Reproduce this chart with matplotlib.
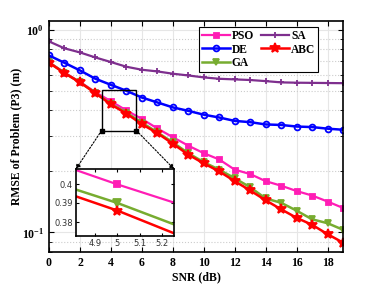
import matplotlib
matplotlib.use("Agg")
import matplotlib.pyplot as plt
from matplotlib.patches import Rectangle, ConnectionPatch
import numpy as np

snr = list(range(20))
pso = [0.692, 0.615, 0.553, 0.492, 0.444, 0.400, 0.363, 0.326, 0.295, 0.268, 0.246, 0.229, 0.204, 0.194, 0.179, 0.170, 0.160, 0.152, 0.142, 0.132]
de = [0.747, 0.687, 0.630, 0.573, 0.535, 0.500, 0.463, 0.438, 0.414, 0.398, 0.381, 0.369, 0.355, 0.350, 0.341, 0.339, 0.333, 0.331, 0.325, 0.321]
ga = [0.690, 0.612, 0.550, 0.488, 0.430, 0.390, 0.348, 0.312, 0.278, 0.246, 0.222, 0.204, 0.185, 0.167, 0.147, 0.140, 0.128, 0.116, 0.111, 0.103]
sa = [0.876, 0.810, 0.773, 0.730, 0.693, 0.657, 0.635, 0.623, 0.607, 0.595, 0.582, 0.573, 0.569, 0.565, 0.558, 0.550, 0.548, 0.547, 0.546, 0.545]
abc = [0.688, 0.611, 0.550, 0.487, 0.428, 0.386, 0.342, 0.309, 0.274, 0.242, 0.219, 0.200, 0.179, 0.161, 0.144, 0.130, 0.118, 0.109, 0.098, 0.089]

xticks = [0, 2, 4, 6, 8, 10, 12, 14, 16, 18]
inset_xticks = [4.9, 5.0, 5.1, 5.2]
inset_xticklabels = ["4.9", "5", "5.1", "5.2"]
inset_yticks = [0.38, 0.39, 0.40]
inset_yticklabels = ["0.38", "0.39", "0.4"]

c_pso = "#FF1DB5"
c_de = "#0000FF"
c_ga = "#77AC30"
c_sa = "#7E2F8E"
c_abc = "#FF0000"

serif = "Liberation Serif"
plt.rcParams["font.family"] = serif
plt.rcParams["mathtext.fontset"] = "custom"
plt.rcParams["mathtext.rm"] = "Liberation Serif:bold"
plt.rcParams["mathtext.bf"] = "Liberation Serif:bold"
plt.rcParams["mathtext.default"] = "bf"

fig = plt.figure(figsize=(3.78, 2.84), dpi=100)
ax = fig.add_axes([49/378, 1-252/284, (343-49)/378, (252-21)/284])

series = [
    ("PSO", pso, c_pso, "s", 3.6, 1.6),
    ("DE", de, c_de, "o", 4.2, 1.8),
    ("GA", ga, c_ga, "v", 4.6, 1.8),
    ("SA", sa, c_sa, "+", 4.6, 1.6),
    ("ABC", abc, c_abc, "*", 7, 1.8),
]
for name, vals, col, mk, ms, lw in series:
    kw = dict(markerfacecolor=col) if mk in ("s", "v", "*") else dict(markerfacecolor="none")
    ax.plot(snr, vals, color=col, marker=mk, markersize=ms, linewidth=lw,
            markeredgewidth=1.3, label=name, **kw)

ax.set_yscale("log")
ax.set_xlim(0, 19)
ax.set_ylim(0.08, 1.105)
ax.set_xticks(xticks)
ax.set_xticklabels([str(t) for t in xticks], fontsize=8.5, fontweight="bold")
ax.tick_params(axis="both", which="both", direction="in", top=True, right=True)
ax.tick_params(axis="both", which="major", length=3.5, labelsize=8.5)
ax.tick_params(axis="y", which="minor", length=2)
for lab in ax.get_yticklabels():
    lab.set_fontweight("bold")
ax.grid(True, which="major", axis="x", color="#e6e6e6", linewidth=0.8)
ax.grid(True, which="major", axis="y", color="#e6e6e6", linewidth=0.8)
ax.grid(True, which="minor", axis="y", color="#cccccc", linestyle=":", linewidth=0.8)
ax.set_axisbelow(True)
for s in ax.spines.values():
    s.set_linewidth(1.2)

ax.set_xlabel("SNR (dB)", fontsize=8.5, fontweight="bold", labelpad=2)
ax.set_ylabel("RMSE of Problem (P3) (m)", fontsize=8.5, fontweight="bold")
ax.yaxis.set_label_coords(-0.092, 0.5)

leg = ax.legend(ncol=2, loc="upper right", bbox_to_anchor=(0.916, 0.973),
                prop={"family": serif, "weight": "bold", "size": 8.3},
                fancybox=False, edgecolor="black", framealpha=1,
                handlelength=2.4, handletextpad=0.2, columnspacing=0.6,
                labelspacing=0.12, borderpad=0.25, borderaxespad=0.0)
leg.get_frame().set_linewidth(0.8)

# zoom box in main axes
bx0, bx1, by0, by1 = 3.4, 5.65, 0.318, 0.502
ax.add_patch(Rectangle((bx0, by0), bx1 - bx0, by1 - by0, fill=False,
                       edgecolor="black", linewidth=1.0, zorder=5))

# inset axes
ins = fig.add_axes([75.7/378, 1-236.3/284, (174.3-75.7)/378, (236.3-169.3)/284])
for name, vals, col, mk, ms, lw in series:
    if name in ("PSO", "GA", "ABC"):
        ins.plot(snr, vals, color=col, marker=mk, markersize=ms * 1.1, linewidth=lw,
                 markeredgewidth=1.3, markerfacecolor=col)
ins.set_xlim(4.812, 5.257)
ins.set_yscale("log")
ins.set_ylim(0.3727, 0.4083)
ins.set_xticks(inset_xticks)
ins.set_xticklabels(inset_xticklabels)
ins.set_yticks(inset_yticks)
ins.set_yticklabels(inset_yticklabels)
ins.minorticks_off()
ins.yaxis.set_minor_locator(matplotlib.ticker.NullLocator())
ins.tick_params(direction="in", labelsize=6, length=2.5, top=True, right=True, pad=2,
                labelcolor="#333333")
for lab in ins.get_xticklabels() + ins.get_yticklabels():
    lab.set_fontfamily("DejaVu Sans")
for s in ins.spines.values():
    s.set_linewidth(1.2)

# connecting arrows
for (xa, xb) in [(bx0, 0.0), (bx1, 1.0)]:
    con = ConnectionPatch(xyA=(xa, by0), coordsA=ax.transData,
                          xyB=(xb, 1.0), coordsB=ins.transAxes,
                          arrowstyle="-|>", linestyle=(0, (1.5, 1.5)),
                          color="black", linewidth=0.8, mutation_scale=7)
    fig.add_artist(con)
ax.plot([bx0, bx1], [by0, by0], linestyle="none", marker="s", markersize=2.5, color="black", zorder=6)

fig.savefig("out.png", dpi=100)
